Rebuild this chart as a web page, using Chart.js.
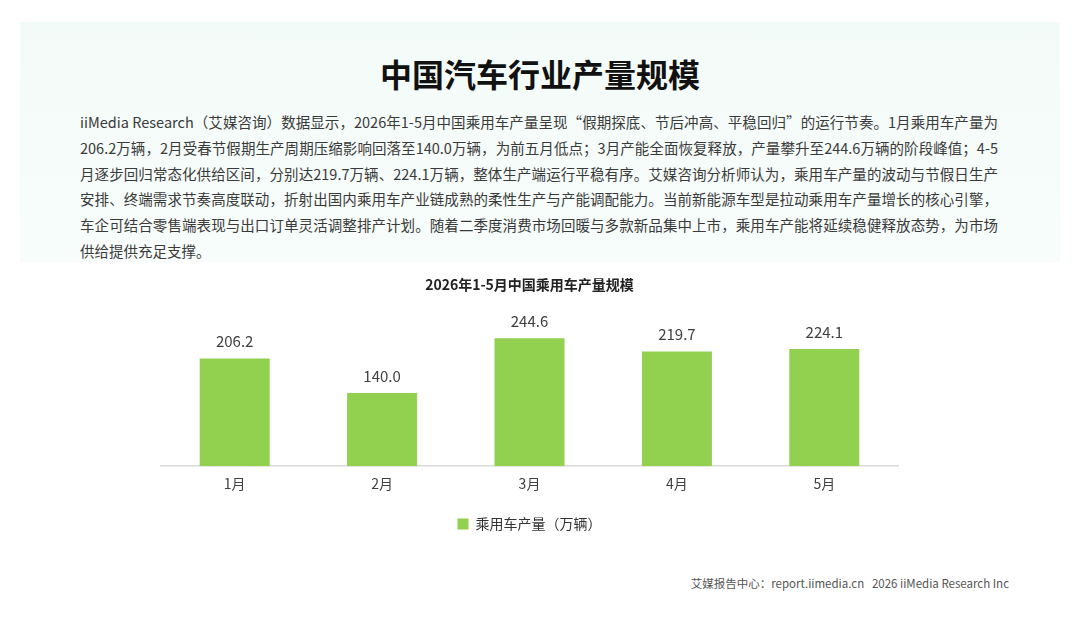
<!DOCTYPE html>
<html>
<head>
<meta charset="utf-8">
<script src="https://cdn.jsdelivr.net/npm/chart.js@4.4.1/dist/chart.umd.min.js"></script>
<style>
  html, body { margin: 0; padding: 0; background: #fff; }
  body { width: 1080px; height: 623px; position: relative; overflow: hidden;
         font-family: "Noto Sans CJK SC", "Noto Sans", sans-serif; }
  #bg { position: absolute; left: 20px; top: 22px; width: 1040px; height: 240px;
        background: linear-gradient(180deg, #f3fbf8 0%, #f5fcf9 60%, #f8fdfb 100%); }
  #title { position: absolute; left: 0; width: 1080px; top: 50px; text-align: center;
           font-size: 32px; font-weight: 700; color: #111; line-height: 46px; }
  #text { position: absolute; left: 80px; top: 109px; width: 918px;
          font-size: 14.5px; line-height: 25.8px; color: #3a3a3a; }
  #text div { text-align: justify; text-align-last: justify; white-space: nowrap; }
  #text div.last { text-align-last: left; }
  #chartBox { position: absolute; left: 140px; top: 272px; width: 780px; height: 269px; }
  #footer { position: absolute; right: 71px; top: 575px; font-size: 11.5px; color: #555;
            white-space: pre; }
</style>
</head>
<body>
<div id="bg"></div>
<div id="title">中国汽车行业产量规模</div>
<div id="text">
  <div>iiMedia Research（艾媒咨询）数据显示，2026年1-5月中国乘用车产量呈现“假期探底、节后冲高、平稳回归”的运行节奏。1月乘用车产量为</div>
  <div>206.2万辆，2月受春节假期生产周期压缩影响回落至140.0万辆，为前五月低点；3月产能全面恢复释放，产量攀升至244.6万辆的阶段峰值；4-5</div>
  <div>月逐步回归常态化供给区间，分别达219.7万辆、224.1万辆，整体生产端运行平稳有序。艾媒咨询分析师认为，乘用车产量的波动与节假日生产</div>
  <div>安排、终端需求节奏高度联动，折射出国内乘用车产业链成熟的柔性生产与产能调配能力。当前新能源车型是拉动乘用车产量增长的核心引擎，</div>
  <div>车企可结合零售端表现与出口订单灵活调整排产计划。随着二季度消费市场回暖与多款新品集中上市，乘用车产能将延续稳健释放态势，为市场</div>
  <div class="last">供给提供充足支撑。</div>
</div>
<div id="chartBox"><canvas id="chart"></canvas></div>
<div id="footer">艾媒报告中心：report.iimedia.cn   2026 iiMedia Research Inc</div>

<script>
const months = ["1月", "2月", "3月", "4月", "5月"];
const production = [206.2, 140.0, 244.6, 219.7, 224.1];
const seriesName = "乘用车产量（万辆）";
const chartTitle = "2026年1-5月中国乘用车产量规模";

const cjk = '"Noto Sans CJK SC", "Noto Sans", sans-serif';

// value labels above the bars
const barLabels = {
  id: "barLabels",
  afterDatasetsDraw(chart) {
    const ctx = chart.ctx;
    const meta = chart.getDatasetMeta(0);
    ctx.save();
    ctx.font = "15px " + cjk;
    ctx.fillStyle = "#404040";
    ctx.textAlign = "center";
    ctx.textBaseline = "middle";
    meta.data.forEach((bar, i) => {
      ctx.fillText(production[i].toFixed(1), bar.x, bar.y - 17);
    });
    ctx.restore();
  },
};

new Chart(document.getElementById("chart"), {
  type: "bar",
  data: {
    labels: months,
    datasets: [
      {
        label: seriesName,
        data: production,
        backgroundColor: "#92d050",
        categoryPercentage: 0.95,
        barPercentage: 0.5,
      },
    ],
  },
  options: {
    responsive: true,
    maintainAspectRatio: false,
    animation: false,
    layout: { padding: { left: 21, right: 22, top: 0, bottom: 0 } },
    scales: {
      x: {
        grid: { display: false },
        border: { color: "#d9d9d9", width: 1.5 },
        ticks: { color: "#404040", font: { size: 14, family: cjk }, padding: 1 },
      },
      y: {
        display: false,
        min: 0,
        max: 305,
      },
    },
    plugins: {
      title: {
        display: true,
        text: chartTitle,
        color: "#222",
        font: { size: 14, weight: "bold", family: cjk },
        padding: { top: 4, bottom: 14 },
      },
      legend: {
        position: "bottom",
        labels: {
          color: "#333",
          font: { size: 14, family: cjk },
          boxWidth: 11,
          boxHeight: 11,
          padding: 24,
        },
      },
      tooltip: { enabled: false },
    },
  },
  plugins: [barLabels],
});
</script>
</body>
</html>
